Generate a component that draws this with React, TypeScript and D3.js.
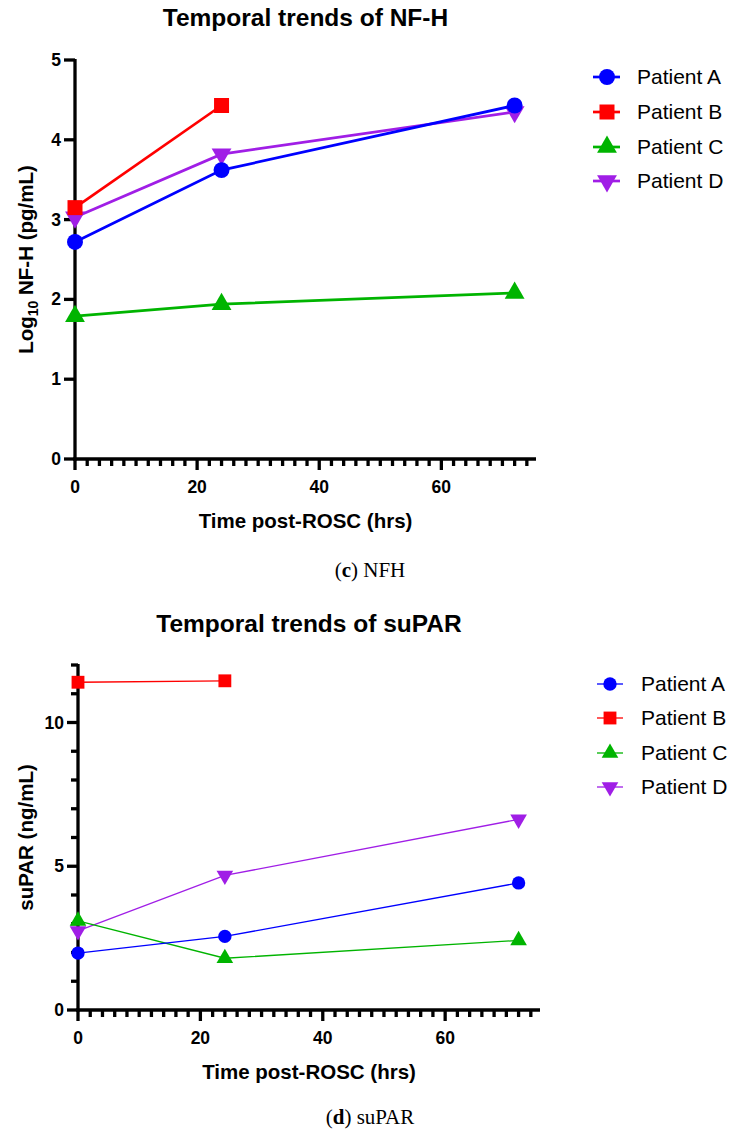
import React from "react";
import * as d3 from "d3";

// ---------- data ----------
const patients = ["Patient A", "Patient B", "Patient C", "Patient D"];
const colors = ["#0000ff", "#ff0000", "#00b400", "#a01ee6"];
const shapes = ["circle", "square", "triangle", "triangleDown"];

const timesFull = [0, 24, 72];
const timesB = [0, 24];

// NF-H (log10 pg/mL)
const nfhA = [2.72, 3.62, 4.43];
const nfhB = [3.15, 4.43];
const nfhC = [1.79, 1.94, 2.08];
const nfhD = [3.03, 3.82, 4.35];

// suPAR (ng/mL)
const suparA = [1.98, 2.56, 4.42];
const suparB = [11.4, 11.45];
const suparC = [3.1, 1.8, 2.42];
const suparD = [2.75, 4.68, 6.63];

const xMajorTicks = [0, 20, 40, 60];
const nfhYTicks = [0, 1, 2, 3, 4, 5];
const suparYMajor = [0, 5, 10];

const FONT = "'Liberation Sans', Arial, sans-serif";

type Series = { name: string; color: string; shape: string; t: number[]; v: number[] };

function symbolPath(shape: string, size: number) {
  const type =
    shape === "circle"
      ? d3.symbolCircle
      : shape === "square"
      ? d3.symbolSquare
      : d3.symbolTriangle;
  return d3.symbol().type(type).size(size)() as string;
}

type PanelProps = {
  title: string;
  titleY: number;
  series: Series[];
  x0: number;
  x1: number;
  yTop: number;
  yBottom: number;
  yMax: number;
  yMajor: number[];
  yMinor: number[];
  yLabel: React.ReactNode;
  lineWidth: number;
  sizes: { circle: number; square: number; triangle: number };
  legendX: number;
  legendY: number[];
  legendLine: [number, number];
  legendTextX: number;
  caption: React.ReactNode;
  captionY: number;
  drawOrder: number[];
};

function Panel(p: PanelProps) {
  const x = d3.scaleLinear().domain([0, 75.5]).range([p.x0, p.x1]);
  const y = d3.scaleLinear().domain([0, p.yMax]).range([p.yBottom, p.yTop]);
  const xMinor = d3.range(0, 76, 2).filter((v) => !xMajorTicks.includes(v));
  const line = d3
    .line<[number, number]>()
    .x((d) => x(d[0]))
    .y((d) => y(d[1]));
  const axisW = 3.3;
  const cx = (p.x0 + p.x1) / 2;
  const sz = (shape: string) =>
    shape === "circle" ? p.sizes.circle : shape === "square" ? p.sizes.square : p.sizes.triangle;
  const marker = (s: Series, px: number, py: number, key: string) => (
    <path
      key={key}
      d={symbolPath(s.shape, sz(s.shape))}
      transform={`translate(${px},${py})${s.shape === "triangleDown" ? " rotate(180)" : ""}`}
      fill={s.color}
    />
  );
  return (
    <g>
      <text x={cx} y={p.titleY} textAnchor="middle" fontFamily={FONT} fontWeight="bold" fontSize={24.5}>
        {p.title}
      </text>
      {/* y axis */}
      <line x1={p.x0} x2={p.x0} y1={p.yTop - 1} y2={p.yBottom + axisW / 2} stroke="#000" strokeWidth={axisW} />
      {p.yMajor.map((v) => (
        <g key={"ym" + v}>
          <line x1={p.x0 - 11} x2={p.x0} y1={y(v)} y2={y(v)} stroke="#000" strokeWidth={axisW} />
          <text
            x={p.x0 - 14}
            y={y(v) + 6}
            textAnchor="end"
            fontFamily={FONT}
            fontWeight="bold"
            fontSize={17.5}
          >
            {v}
          </text>
        </g>
      ))}
      {p.yMinor.map((v) => (
        <line key={"yn" + v} x1={p.x0 - 7} x2={p.x0} y1={y(v)} y2={y(v)} stroke="#000" strokeWidth={axisW} />
      ))}
      {/* x axis */}
      <line x1={p.x0 - axisW / 2} x2={p.x1} y1={p.yBottom} y2={p.yBottom} stroke="#000" strokeWidth={axisW} />
      {xMajorTicks.map((v) => (
        <g key={"xm" + v}>
          <line x1={x(v)} x2={x(v)} y1={p.yBottom} y2={p.yBottom + 11} stroke="#000" strokeWidth={axisW} />
          <text
            x={x(v)}
            y={p.yBottom + 34}
            textAnchor="middle"
            fontFamily={FONT}
            fontWeight="bold"
            fontSize={17.5}
          >
            {v}
          </text>
        </g>
      ))}
      {xMinor.map((v) => (
        <line key={"xn" + v} x1={x(v)} x2={x(v)} y1={p.yBottom} y2={p.yBottom + 7} stroke="#000" strokeWidth={axisW} />
      ))}
      <text x={cx} y={p.yBottom + 69} textAnchor="middle" fontFamily={FONT} fontWeight="bold" fontSize={20.5}>
        Time post-ROSC (hrs)
      </text>
      <text
        transform={`translate(33,${(p.yTop + p.yBottom) / 2}) rotate(-90)`}
        textAnchor="middle"
        fontFamily={FONT}
        fontWeight="bold"
        fontSize={20.5}
      >
        {p.yLabel}
      </text>
      {/* series */}
      {p.drawOrder.map((i) => {
        const s = p.series[i];
        const pts = s.t.map((t, j) => [t, s.v[j]] as [number, number]);
        return (
          <g key={s.name}>
            <path d={line(pts) as string} fill="none" stroke={s.color} strokeWidth={p.lineWidth} />
            {pts.map((d, j) => marker(s, x(d[0]), y(d[1]), s.name + j))}
          </g>
        );
      })}
      {/* legend */}
      {p.series.map((s, i) => (
        <g key={"lg" + i}>
          <line
            x1={p.legendLine[0]}
            x2={p.legendLine[1]}
            y1={p.legendY[i]}
            y2={p.legendY[i]}
            stroke={s.color}
            strokeWidth={p.lineWidth}
          />
          {marker(s, p.legendX, p.legendY[i], "lgm" + i)}
          <text x={p.legendTextX} y={p.legendY[i] + 7} fontFamily={FONT} fontSize={21}>
            {s.name}
          </text>
        </g>
      ))}
      <text x={370} y={p.captionY} textAnchor="middle" fontFamily="'Liberation Serif', 'Times New Roman', serif" fontSize={21}>
        {p.caption}
      </text>
    </g>
  );
}

export default function App() {
  const nfhSeries: Series[] = [
    { name: patients[0], color: colors[0], shape: shapes[0], t: timesFull, v: nfhA },
    { name: patients[1], color: colors[1], shape: shapes[1], t: timesB, v: nfhB },
    { name: patients[2], color: colors[2], shape: shapes[2], t: timesFull, v: nfhC },
    { name: patients[3], color: colors[3], shape: shapes[3], t: timesFull, v: nfhD },
  ];
  const suparSeries: Series[] = [
    { name: patients[0], color: colors[0], shape: shapes[0], t: timesFull, v: suparA },
    { name: patients[1], color: colors[1], shape: shapes[1], t: timesB, v: suparB },
    { name: patients[2], color: colors[2], shape: shapes[2], t: timesFull, v: suparC },
    { name: patients[3], color: colors[3], shape: shapes[3], t: timesFull, v: suparD },
  ];
  const suparMinor = d3.range(0, 13, 1).filter((v) => !suparYMajor.includes(v));
  return (
    <svg
      width={734}
      height={1139}
      style={{ position: "absolute", left: 0, top: 0, background: "#fff" }}
    >
      <rect width={734} height={1139} fill="#fff" />
      <Panel
        title="Temporal trends of NF-H"
        titleY={26}
        series={nfhSeries}
        x0={75}
        x1={536}
        yTop={60}
        yBottom={459}
        yMax={5}
        yMajor={nfhYTicks}
        yMinor={[]}
        yLabel={
          <>
            Log
            <tspan fontSize={14} dy={5}>10</tspan>
            <tspan dy={-5}> NF-H (pg/mL)</tspan>
          </>
        }
        lineWidth={2.7}
        sizes={{ circle: 200, square: 225, triangle: 170 }}
        legendX={607}
        legendY={[77, 112, 147, 181]}
        legendLine={[593, 620]}
        legendTextX={637}
        caption={
          <>
            (<tspan fontWeight="bold">c</tspan>) NFH
          </>
        }
        captionY={577}
        drawOrder={[3, 2, 1, 0]}
      />
      <Panel
        title="Temporal trends of suPAR"
        titleY={632}
        series={suparSeries}
        x0={78}
        x1={540}
        yTop={665}
        yBottom={1010}
        yMax={12}
        yMajor={suparYMajor}
        yMinor={suparMinor}
        yLabel="suPAR (ng/mL)"
        lineWidth={1.3}
        sizes={{ circle: 140, square: 165, triangle: 120 }}
        legendX={610}
        legendY={[684, 718, 753, 787]}
        legendLine={[597, 623]}
        legendTextX={641}
        caption={
          <>
            (<tspan fontWeight="bold">d</tspan>) suPAR
          </>
        }
        captionY={1124}
        drawOrder={[3, 2, 1, 0]}
      />
    </svg>
  );
}
